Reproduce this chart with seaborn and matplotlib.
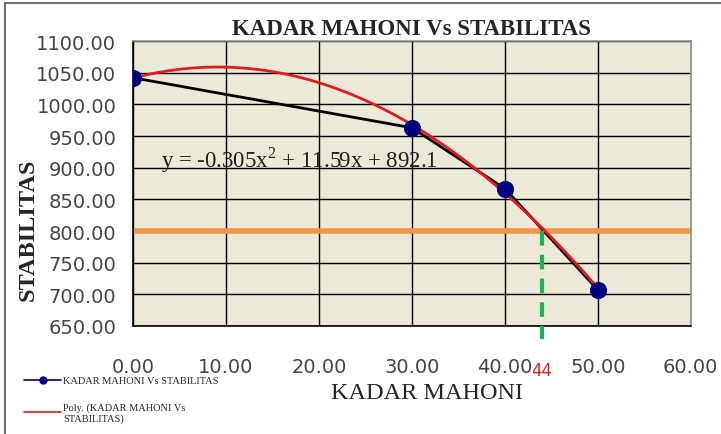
import numpy as np
import pandas as pd
import seaborn as sns
import matplotlib.pyplot as plt
from matplotlib.lines import Line2D
from matplotlib.patches import Rectangle

# data
kadar = [0, 30, 40, 50]
stabilitas = [1042, 963, 867, 707]
batas_y = 800
kadar_batas = 44
x_ticks = [0, 10, 20, 30, 40, 50, 60]
y_ticks = [650, 700, 750, 800, 850, 900, 950, 1000, 1050, 1100]
persamaan = "y = -0.305x$^2$ + 11.59x + 892.1"

df = pd.DataFrame({"kadar": kadar, "stabilitas": stabilitas})

sns.set_style("white")
plt.rcParams["font.family"] = ["DejaVu Sans"]
plt.rcParams["mathtext.fontset"] = "custom"
plt.rcParams["mathtext.rm"] = "Liberation Serif"
serif = ["Liberation Serif", "DejaVu Serif"]

fig = plt.figure(figsize=(7.21, 4.35), dpi=100)
fig.patches.append(Rectangle((0.007, -0.05), 1.2, 1.04, transform=fig.transFigure,
                             fill=False, edgecolor="#707070", linewidth=1.5))
ax = fig.add_axes([0.1845, 0.2483, 0.7735, 0.6551])
ax.set_facecolor("#ECE9D8")

# grid
for xv in x_ticks:
    ax.axvline(xv, color="black", linewidth=1.0, zorder=1)
for yv in y_ticks:
    ax.axhline(yv, color="black", linewidth=1.0, zorder=1)

ax.axhline(batas_y, color="#F79646", linewidth=4, zorder=2)

sns.lineplot(data=df, x="kadar", y="stabilitas", color="black", linewidth=2,
             ax=ax, zorder=3)
sns.regplot(data=df, x="kadar", y="stabilitas", order=2, ci=None, truncate=True,
            scatter=False, line_kws={"color": "#E41A1C", "linewidth": 2, "zorder": 4},
            ax=ax)
sns.scatterplot(data=df, x="kadar", y="stabilitas", color="#000080", s=130,
                edgecolor="#000080", ax=ax, zorder=5)

ax.plot([kadar_batas, kadar_batas], [batas_y, 629], color="#1DB055", linewidth=3,
        linestyle=(0, (3.5, 2.2)), clip_on=False, zorder=6)

ax.set_xlim(0, 60)
ax.set_ylim(650, 1100)
ax.set_xticks(x_ticks)
ax.set_yticks(y_ticks)
ax.set_xticklabels([f"{v:.2f}" for v in x_ticks], fontsize=14, color="#454545")
ax.set_yticklabels([f"{v:.2f}" for v in y_ticks], fontsize=14, color="#454545")
ax.tick_params(axis="both", direction="out", length=5, width=1, color="black")
ax.tick_params(axis="x", pad=17)
ax.tick_params(axis="y", pad=7)

for side in ["left", "bottom"]:
    ax.spines[side].set_color("black")
    ax.spines[side].set_linewidth(1.2)
for side in ["top", "right"]:
    ax.spines[side].set_color("#909090")
    ax.spines[side].set_linewidth(1.2)

ax.text(kadar_batas, 581, "44", color="#D42020", fontsize=12,
        ha="center", va="center", transform=ax.transData)

ax.text(3.0, 913, persamaan, fontsize=16.5, family=serif, color="#202020",
        ha="left", va="center")

ax.set_title("KADAR MAHONI Vs STABILITAS", fontsize=16.5, family=serif,
             fontweight="bold", pad=5)
ax.set_xlabel("KADAR MAHONI", fontsize=17.5, family=serif, va="center")
ax.xaxis.set_label_coords(0.528, -0.232)
ax.set_ylabel("STABILITAS", fontsize=17.5, family=serif, fontweight="bold",
              va="center")
ax.yaxis.set_label_coords(-0.1875, 0.34)

handles = [
    Line2D([0], [0], color="#000080", marker="o", markersize=5, linewidth=1.2),
    Line2D([0], [0], color="#E41A1C", linewidth=1.2),
]
labels = ["KADAR MAHONI Vs STABILITAS", "Poly. (KADAR MAHONI Vs\nSTABILITAS)"]
fig.legend(handles, labels, loc="upper left", bbox_to_anchor=(0.02, 0.155),
           frameon=False, prop={"family": serif, "size": 7.5}, handlelength=3.6,
           labelspacing=1.6, handletextpad=0.15)

fig.savefig("out.png", dpi=100)
